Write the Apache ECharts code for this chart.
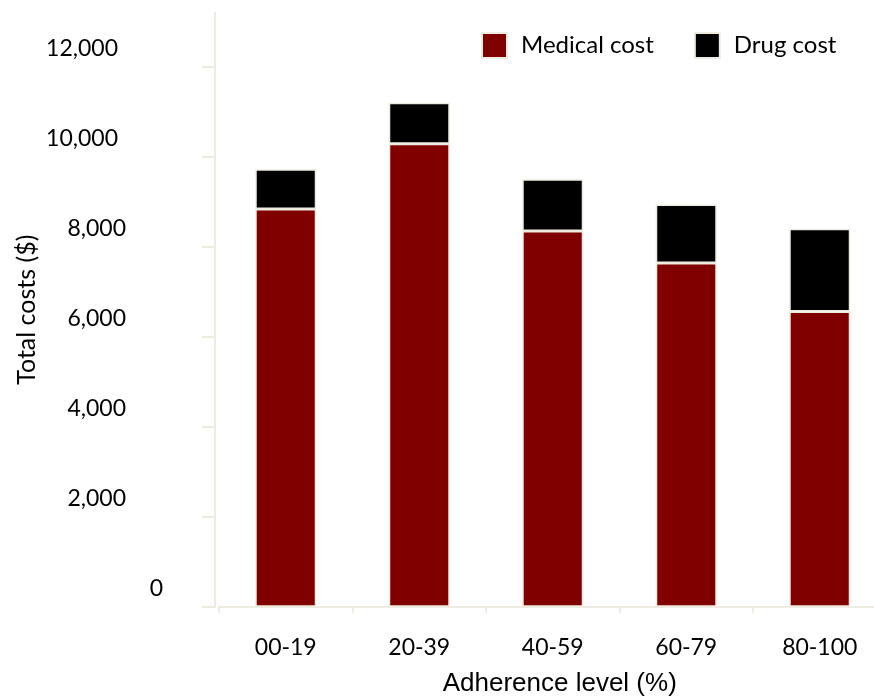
<!DOCTYPE html>
<html>
<head>
<meta charset="utf-8">
<script src="https://cdn.jsdelivr.net/npm/echarts@6/dist/echarts.min.js"></script>
<style>
html,body{margin:0;padding:0;background:#fff;}
#chart{width:874px;height:698px;}
</style>
</head>
<body>
<div id="chart"></div>
<script>
const categories = ['00-19', '20-39', '40-59', '60-79', '80-100'];
const medicalCost = [8840, 10290, 8350, 7640, 6560];
const drugCost = [880, 910, 1150, 1300, 1840];
const yTicks = [0, 2000, 4000, 6000, 8000, 10000, 12000];
const seriesNames = ['Medical cost', 'Drug cost'];

const AXIS = '#EEECE1';
const FONT = 'Lato';

const chart = echarts.init(document.getElementById('chart'));
chart.setOption({
  animation: false,
  backgroundColor: '#ffffff',
  grid: { left: 219, right: -12.5, top: 12.7, bottom: 91.3, outerBoundsMode: 'none' },
  legend: {
    left: 481, top: 32, padding: 0,
    itemWidth: 25, itemHeight: 25, itemGap: 40,
    icon: 'rect',
    textStyle: { fontFamily: FONT, fontSize: 24, color: '#000', padding: [0, 0, 0, 9] },
    data: seriesNames
  },
  xAxis: {
    type: 'category',
    data: categories,
    name: 'Adherence level (%)',
    nameLocation: 'middle',
    nameGap: 64,
    nameMoveOverlap: false,
    nameTextStyle: { fontFamily: 'Liberation Sans', fontSize: 26, color: '#000', padding: [0, 0, 0, 14] },
    axisLine: { lineStyle: { color: AXIS, width: 2 } },
    axisTick: { show: true, alignWithLabel: false, length: 6, lineStyle: { color: AXIS, width: 2 } },
    axisLabel: { fontFamily: FONT, fontSize: 23, color: '#000', margin: 29 }
  },
  yAxis: {
    type: 'value',
    min: 0, max: 13200, interval: 2000,
    offset: 4,
    name: 'Total costs ($)',
    nameLocation: 'middle',
    nameGap: 176,
    nameMoveOverlap: false,
    nameTextStyle: { fontFamily: FONT, fontSize: 25, color: '#000' },
    axisLine: { show: true, lineStyle: { color: AXIS, width: 2 } },
    axisTick: { show: true, length: 13, customValues: yTicks, lineStyle: { color: AXIS, width: 2 } },
    splitLine: { show: false },
    axisLabel: {
      customValues: yTicks,
      margin: 52,
      fontFamily: FONT, fontSize: 23, color: '#000',
      formatter: function (v) {
        const s = Number(v).toLocaleString('en-US');
        if (s.length >= 6) return '{w5|' + s + '}';
        if (s.length >= 5) return '{w4|' + s + '}';
        return '{w1|' + s + '}';
      },
      rich: {
        w5: { fontFamily: FONT, fontSize: 23, color: '#000', padding: [0, 45, 36, 0] },
        w4: { fontFamily: FONT, fontSize: 23, color: '#000', padding: [0, 37, 36, 0] },
        w1: { fontFamily: FONT, fontSize: 23, color: '#000', padding: [0, 0, 36, 0] }
      }
    }
  },
  series: [
    {
      name: seriesNames[0], type: 'bar', stack: 'total', data: medicalCost,
      barWidth: 61,
      itemStyle: { color: '#800000', borderColor: AXIS, borderWidth: 1.5 }
    },
    {
      name: seriesNames[1], type: 'bar', stack: 'total', data: drugCost,
      barWidth: 61,
      itemStyle: { color: '#000000', borderColor: AXIS, borderWidth: 1.5 }
    }
  ]
});
</script>
</body>
</html>
